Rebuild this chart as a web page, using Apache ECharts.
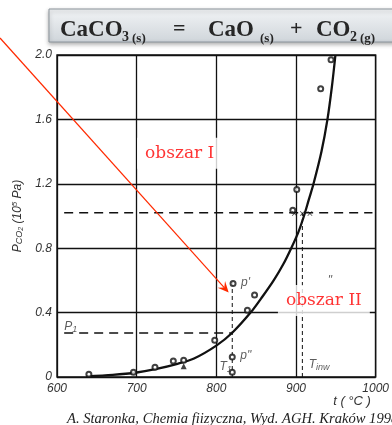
<!DOCTYPE html>
<html>
<head>
<meta charset="utf-8">
<script src="https://cdn.jsdelivr.net/npm/echarts@6/dist/echarts.min.js"></script>
<style>
html,body{margin:0;padding:0;background:#fff}
#main{width:392px;height:425px}
</style>
</head>
<body>
<div id="main"></div>
<script>
// osie
var xTicks = [600, 700, 800, 900, 1000];
var yTicks = [0, 0.4, 0.8, 1.2, 1.6, 2.0];

// krzywa rownowagi p(CO2) = f(t)
var curveT = [637, 670, 700, 725, 750, 772, 800, 820, 843, 858, 872, 884, 894, 903, 910, 916, 922, 932, 939.5, 945, 949.5];
var curveP = [0.004, 0.013, 0.028, 0.05, 0.08, 0.115, 0.195, 0.275, 0.40, 0.50, 0.60, 0.70, 0.80, 0.90, 1.0, 1.1, 1.2, 1.4, 1.6, 1.8, 2.0];

// punkty pomiarowe (kolka)
var circleT = [640, 696, 723, 746, 759, 798, 839, 848, 821, 820, 820, 896, 901, 931, 944];
var circleP = [0.017, 0.03, 0.06, 0.10, 0.104, 0.228, 0.415, 0.51, 0.58, 0.125, 0.03, 1.035, 1.165, 1.79, 1.97];

// trojkat i krzyzyki
var triT = [759];
var triP = [0.067];
var crossT = [898, 908, 917.5];
var crossP = [1.015, 1.015, 1.015];

// linie przerywane
var p1Line = [[609, 0.274], [820, 0.274]];
var pHighLine = [[609, 1.02], [996, 1.02]];
var t1Line = [[820, 0], [820, 0.6]];
var tinwLine = [[908, 0], [908, 1.02]];

// opisy punktow
var labelNames = ['{i|p\'}', '{i|p"}', '{i|T}{s|1}', '{i|T}{s|inw}', '{i|P}{s|1}', '{i|"}'];
var labelT = [831, 830, 804, 916, 609, 940];
var labelP = [0.585, 0.13, 0.065, 0.075, 0.31, 0.6];

// obszary
var regionNames = ['obszar I', 'obszar II'];
var regionT = [754, 935];
var regionP = [1.39, 0.475];

function zip(a, b) {
  return a.map(function (v, i) { return [v, b[i]]; });
}

var dashStyle = function (data, pattern, w) {
  return {
    type: 'line', data: data, symbol: 'none', silent: true, z: 3,
    lineStyle: { color: '#111', width: w, type: pattern }
  };
};

var axisFont = { fontFamily: 'Liberation Sans', fontStyle: 'italic', fontSize: 12, color: '#333' };

var option = {
  backgroundColor: '#fff',
  animation: false,
  grid: { left: 57, right: 9, top: 55, bottom: 48, show: true, borderColor: '#111', borderWidth: 1.4 },
  xAxis: {
    type: 'value', min: 600, max: 1000, interval: 100,
    axisLine: { show: false }, axisTick: { show: false },
    splitLine: { lineStyle: { color: '#111', width: 1.3 } },
    axisLabel: Object.assign({ margin: 6 }, axisFont, { formatter: function (v) { return xTicks.indexOf(v) >= 0 ? String(v) : ''; } })
  },
  yAxis: {
    type: 'value', min: 0, max: 2.0, interval: 0.4,
    axisLine: { show: false }, axisTick: { show: false },
    splitLine: { lineStyle: { color: '#111', width: 1.3 } },
    axisLabel: Object.assign({ margin: 5 }, axisFont, {
      formatter: function (v) { return v === 0 ? '0' : v.toFixed(1); }
    }),
    name: '{i|P}{s|CO}{ss|2}{n| (10}{sup|5}{n| Pa)}',
    nameLocation: 'middle', nameRotate: 90, nameGap: 31,
    nameTextStyle: {
      rich: {
        i: { fontFamily: 'Liberation Sans', fontStyle: 'italic', fontSize: 12, color: '#333' },
        s: { fontFamily: 'Liberation Sans', fontStyle: 'italic', fontSize: 9, color: '#333', verticalAlign: 'bottom', padding: [4, 0, 0, 0] },
        ss: { fontFamily: 'Liberation Sans', fontStyle: 'italic', fontSize: 7, color: '#333', verticalAlign: 'bottom', padding: [6, 0, 0, 0] },
        n: { fontFamily: 'Liberation Sans', fontStyle: 'italic', fontSize: 12, color: '#333' },
        sup: { fontFamily: 'Liberation Sans', fontStyle: 'italic', fontSize: 8, color: '#333', verticalAlign: 'top', padding: [0, 0, 6, 0] }
      }
    }
  },
  series: [
    dashStyle(p1Line, [9, 6], 1.5),
    dashStyle(pHighLine, [9, 6], 1.5),
    dashStyle(t1Line, [4, 3], 1),
    dashStyle(tinwLine, [4, 3], 1),
    {
      type: 'line', data: zip(curveT, curveP), symbol: 'none', smooth: 0.3, z: 4,
      lineStyle: { color: '#111', width: 2.3 }
    },
    {
      type: 'scatter', data: zip(circleT, circleP), symbol: 'emptyCircle', symbolSize: 5, z: 5,
      itemStyle: { color: '#111', borderColor: '#111', borderWidth: 1.2 }
    },
    {
      type: 'scatter', data: zip(triT, triP), symbol: 'triangle', symbolSize: 6, z: 5,
      itemStyle: { color: '#111' }
    },
    {
      type: 'scatter', data: zip(crossT, crossP), z: 5,
      symbol: 'path://M0,1L1,0L5,4L9,0L10,1L6,5L10,9L9,10L5,6L1,10L0,9L4,5Z', symbolSize: 5,
      itemStyle: { color: '#111' }
    },
    {
      type: 'scatter', symbolSize: 0, z: 6, silent: true,
      data: labelT.map(function (t, i) { return { name: labelNames[i], value: [t, labelP[i]] }; }),
      label: {
        show: true, position: [0, 0], align: 'left', verticalAlign: 'middle',
        formatter: function (p) { return p.name; },
        rich: {
          i: { fontFamily: 'Liberation Sans', fontStyle: 'italic', fontSize: 12, color: '#333' },
          s: { fontFamily: 'Liberation Sans', fontStyle: 'italic', fontSize: 9, color: '#333', verticalAlign: 'bottom', padding: [5, 0, 0, 0] }
        }
      }
    },
    {
      type: 'scatter', symbolSize: 0, z: 10, silent: true,
      data: regionT.map(function (t, i) { return { name: regionNames[i], value: [t, regionP[i]] }; }),
      label: {
        show: true, position: 'inside', formatter: function (p) { return p.name; },
        fontFamily: 'DejaVu Serif', fontSize: 17, color: '#ff0000',
        backgroundColor: '#fff', padding: [7, 8, 7, 8]
      }
    }
  ]
};

var chart = echarts.init(document.getElementById('main'), null, { renderer: 'canvas' });
chart.setOption(option);

// tytul: rownanie reakcji, strzalka i zrodlo
var end = chart.convertToPixel({ gridIndex: 0 }, [815.5, 0.525]);
var start = [0, 38];
var dx = end[0] - start[0], dy = end[1] - start[1];
var len = Math.sqrt(dx * dx + dy * dy);
var ux = dx / len, uy = dy / len;
var hl = 11, hw = 5;
var bx = end[0] - ux * hl, by = end[1] - uy * hl;
var nx = end[0] - ux * hl * 0.6, ny = end[1] - uy * hl * 0.6;

var titleFont = 'Liberation Serif';
function tt(text, x, y, size) {
  return { type: 'text', x: x, y: y, z: 101,
    style: { text: text, fill: '#262626', font: 'bold ' + size + 'px "' + titleFont + '"', verticalAlign: 'middle' } };
}

chart.setOption({
  graphic: [
    {
      type: 'rect', z: 100,
      shape: { x: 49, y: 9, width: 350, height: 33 },
      style: {
        fill: new echarts.graphic.LinearGradient(0, 0, 0, 1, [
          { offset: 0, color: '#f2f4f6' }, { offset: 1, color: '#cfd5da' }
        ]),
        stroke: '#8c959c', lineWidth: 1,
        shadowBlur: 4, shadowColor: 'rgba(0,0,0,0.3)', shadowOffsetY: 2
      }
    },
    tt('CaCO', 60, 30, 23),
    tt('3', 122, 37, 14),
    tt('(s)', 132, 38.5, 13),
    tt('=', 173, 29, 22),
    tt('CaO', 208, 30, 23),
    tt('(s)', 260, 38.5, 13),
    tt('+', 290, 29, 22),
    tt('CO', 316, 30, 23),
    tt('2', 350, 37, 14),
    tt('(g)', 360, 38.5, 13),
    {
      type: 'line', z: 120,
      shape: { x1: start[0], y1: start[1], x2: nx, y2: ny },
      style: { stroke: '#ff2a00', lineWidth: 1.2 }
    },
    {
      type: 'polygon', z: 120,
      shape: { points: [end, [bx + uy * hw, by - ux * hw], [nx, ny], [bx - uy * hw, by + ux * hw]] },
      style: { fill: '#ff2a00' }
    },
    {
      type: 'text', x: 352, y: 401, z: 101,
      style: { text: 't ( °C )', fill: '#333', font: 'italic 13px "Liberation Sans"', align: 'center', verticalAlign: 'middle' }
    },
    {
      type: 'text', x: 67, y: 419, z: 101,
      style: { text: 'A. Staronka, Chemia fiizyczna, Wyd. AGH. Kraków 1998', fill: '#222', font: 'italic 14.6px "Liberation Serif"', verticalAlign: 'middle' }
    }
  ]
});
</script>
</body>
</html>
